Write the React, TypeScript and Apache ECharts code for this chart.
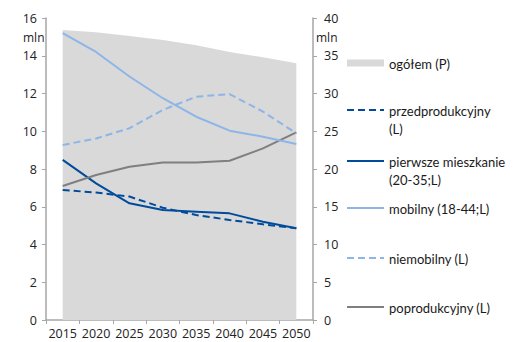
import React, { useEffect, useRef } from "react";
import * as echarts from "echarts";

const years = ["2015", "2020", "2025", "2030", "2035", "2040", "2045", "2050"];

// right axis (mln)
const ogolem = [38.4, 38.1, 37.6, 37.1, 36.4, 35.5, 34.8, 34.0];

// left axis (mln)
const przedprodukcyjny = [6.89, 6.75, 6.54, 5.95, 5.56, 5.3, 5.07, 4.86];
const pierwszeMieszkanie = [8.48, 7.24, 6.18, 5.83, 5.74, 5.65, 5.21, 4.86];
const mobilny = [15.2, 14.2, 12.9, 11.75, 10.77, 10.03, 9.71, 9.32];
const niemobilny = [9.27, 9.62, 10.16, 11.13, 11.83, 11.97, 11.04, 9.89];
const poprodukcyjny = [7.1, 7.68, 8.12, 8.34, 8.34, 8.44, 9.09, 9.94];

const leftTicks = { min: 0, max: 16, interval: 2 };
const rightTicks = { min: 0, max: 40, interval: 5 };

const DARK = "#004b9b";
const LIGHT = "#8db5e8";
const GREY = "#7f7f7f";
const AREA = "#d9d9d9";
const AXIS = "#a6a6a6";

const legendItems = [
  { label: "ogółem (P)", kind: "area", color: AREA, dashed: false, y: 63 },
  { label: "przedprodukcyjny\n(L)", kind: "line", color: DARK, dashed: true, y: 110 },
  { label: "pierwsze mieszkanie\n(20-35;L)", kind: "line", color: DARK, dashed: false, y: 161 },
  { label: "mobilny (18-44;L)", kind: "line", color: LIGHT, dashed: false, y: 208 },
  { label: "niemobilny (L)", kind: "line", color: LIGHT, dashed: true, y: 258 },
  { label: "poprodukcyjny (L)", kind: "line", color: GREY, dashed: false, y: 307 },
];

const AXIS_FONT = "'Open Sans', sans-serif";
const LEGEND_FONT = "Lato, 'Open Sans', sans-serif";

export default function App() {
  const ref = useRef<HTMLDivElement>(null);

  useEffect(() => {
    if (!ref.current) return;
    const chart = echarts.init(ref.current, undefined, { renderer: "svg" });

    const lineSeries = (
      name: string,
      data: number[],
      color: string,
      dashed: boolean
    ) => ({
      name,
      type: "line",
      yAxisIndex: 0,
      data,
      symbol: "none",
      z: 3,
      lineStyle: {
        color,
        width: 2,
        type: dashed ? [7, 4] : "solid",
      },
    });

    const legendGraphics: any[] = [];
    legendItems.forEach((it) => {
      if (it.kind === "area") {
        legendGraphics.push({
          type: "rect",
          shape: { x: 347, y: it.y - 3.5, width: 37, height: 7 },
          style: { fill: it.color },
        });
      } else {
        legendGraphics.push({
          type: "line",
          shape: { x1: 347, y1: it.y, x2: 384, y2: it.y },
          style: {
            stroke: it.color,
            lineWidth: 2,
            lineDash: it.dashed ? [7, 4] : null,
          },
        });
      }
      legendGraphics.push({
        type: "text",
        x: 389,
        y: it.y - 8,
        style: {
          text: it.label,
          fill: "#1a1a1a",
          font: `13px ${LEGEND_FONT}`,
          lineHeight: 18,
          textVerticalAlign: "top",
        },
      });
    });

    chart.setOption({
      animation: false,
      grid: { left: 46, right: 205, top: 18, bottom: 22, containLabel: false },
      xAxis: {
        type: "category",
        data: years,
        boundaryGap: true,
        axisLine: { lineStyle: { color: AXIS, width: 1.5 } },
        axisTick: { show: true, length: 4, lineStyle: { color: AXIS } },
        axisLabel: {
          color: "#222",
          fontSize: 12.5,
          fontFamily: AXIS_FONT,
          margin: 6,
          lineHeight: 14,
          interval: 0,
        },
        splitLine: { show: false },
      },
      yAxis: [
        {
          type: "value",
          position: "left",
          ...leftTicks,
          axisLine: { show: true, lineStyle: { color: AXIS, width: 1.5 } },
          axisTick: { show: true, length: 4, lineStyle: { color: AXIS } },
          axisLabel: {
            color: "#222",
            fontSize: 12.5,
            fontFamily: AXIS_FONT,
            margin: 9,
          },
          splitLine: { show: false },
        },
        {
          type: "value",
          position: "right",
          ...rightTicks,
          axisLine: { show: true, lineStyle: { color: AXIS, width: 1.5 } },
          axisTick: { show: true, length: 4, lineStyle: { color: AXIS } },
          axisLabel: {
            color: "#222",
            fontSize: 12.5,
            fontFamily: AXIS_FONT,
            margin: 11,
          },
          splitLine: { show: false },
        },
      ],
      series: [
        {
          name: "ogółem (P)",
          type: "line",
          yAxisIndex: 1,
          data: ogolem,
          symbol: "none",
          smooth: false,
          z: 1,
          lineStyle: { width: 0, color: AREA },
          areaStyle: { color: AREA, opacity: 1 },
        },
        lineSeries("przedprodukcyjny (L)", przedprodukcyjny, DARK, true),
        lineSeries("pierwsze mieszkanie (20-35;L)", pierwszeMieszkanie, DARK, false),
        lineSeries("poprodukcyjny (L)", poprodukcyjny, GREY, false),
        lineSeries("niemobilny (L)", niemobilny, LIGHT, true),
        lineSeries("mobilny (18-44;L)", mobilny, LIGHT, false),
      ],
      graphic: [
        {
          type: "text",
          x: 23,
          y: 31,
          style: { text: "mln", fill: "#222", font: `12px ${AXIS_FONT}` },
        },
        {
          type: "text",
          x: 316,
          y: 31,
          style: { text: "mln", fill: "#222", font: `12px ${AXIS_FONT}` },
        },
        ...legendGraphics,
      ],
    });

    return () => chart.dispose();
  }, []);

  return <div ref={ref} style={{ width: 518, height: 342, position: "absolute", left: 0, top: 0 }} />;
}
